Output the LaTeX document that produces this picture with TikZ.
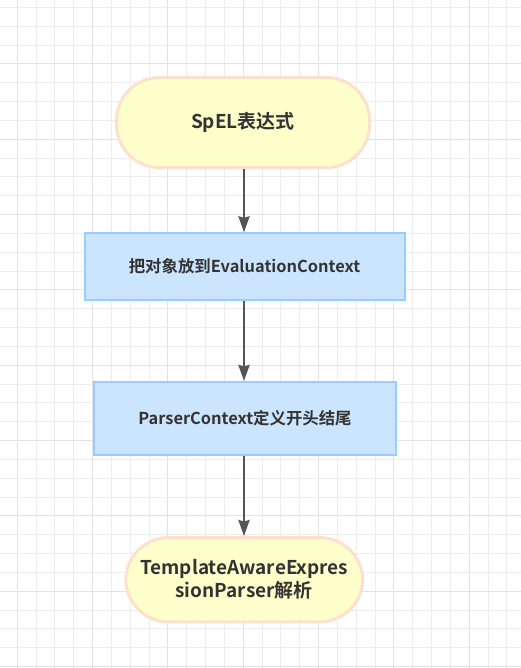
\documentclass[tikz,border=0pt]{standalone}
\usepackage{fontspec}
\setmainfont{Noto Sans CJK SC}[BoldFont={Noto Sans CJK SC Bold}]
\usetikzlibrary{arrows.meta}
\definecolor{gridminor}{HTML}{EDEDED}
\definecolor{gridmajor}{HTML}{E2E2E2}
\definecolor{termfill}{HTML}{FFFFCC}
\definecolor{termdraw}{HTML}{FFE0CC}
\definecolor{procfill}{HTML}{CCE5FF}
\definecolor{procdraw}{HTML}{99CCFF}
\definecolor{txt}{HTML}{333333}
\definecolor{arr}{HTML}{555555}
\tikzset{
  term/.style={draw=termdraw, fill=termfill, line width=3pt, rounded corners=43pt,
    inner sep=0pt, align=center, text=txt, font=\bfseries},
  proc/.style={draw=procdraw, fill=procfill, line width=2pt,
    inner sep=0pt, align=center, text=txt, font=\bfseries},
  conn/.style={draw=arr, line width=2.5pt, -{Stealth[width=11pt,length=16pt,inset=1.5pt]}},
}
\begin{document}
\begin{tikzpicture}[x=1pt,y=-1pt]
\useasboundingbox (0,0) rectangle (521,668);
\fill[white] (0,0) rectangle (521,668);
% grid
\foreach \k in {-1,...,27} {
  \pgfmathsetmacro{\xx}{17.3+\k*18.83}
  \pgfmathtruncatemacro{\m}{mod(\k+4,4)}
  \ifnum\m=0
    \draw[gridmajor, line width=1pt] (\xx,0) -- (\xx,668);
  \else
    \draw[gridminor, line width=1pt] (\xx,0) -- (\xx,668);
  \fi
}
\foreach \k in {-4,...,32} {
  \pgfmathsetmacro{\yy}{64+\k*18.83}
  \pgfmathtruncatemacro{\m}{mod(\k+8,4)}
  \ifnum\m=0
    \draw[gridmajor, line width=1pt] (0,\yy) -- (521,\yy);
  \else
    \draw[gridminor, line width=1pt] (0,\yy) -- (521,\yy);
  \fi
}
% nodes
\node[term, minimum width=253pt, minimum height=90pt, font=\bfseries\fontsize{19}{22}\selectfont] (n1) at (243,122.5) {SpEL表达式};
\node[proc, minimum width=320pt, minimum height=66.7pt, font=\bfseries\fontsize{16.4}{19}\selectfont] (n2) at (244.5,266.7) {把对象放到EvaluationContext};
\node[proc, minimum width=302.6pt, minimum height=73pt, font=\bfseries\fontsize{16.4}{19}\selectfont] (n3) at (245,418.5) {ParserContext定义开头结尾};
\node[term, minimum width=237pt, minimum height=84.3pt, font=\bfseries\fontsize{19}{23}\selectfont] (n4) at (244.2,579.7) {TemplateAwareExpres\\sionParser解析};
% connectors
\draw[conn] (n1.south -| 244,0) -- (n2.north -| 244,0);
\draw[conn] (n2.south -| 244,0) -- (n3.north -| 244,0);
\draw[conn] (n3.south -| 244,0) -- (n4.north -| 244,0);
\end{tikzpicture}
\end{document}
